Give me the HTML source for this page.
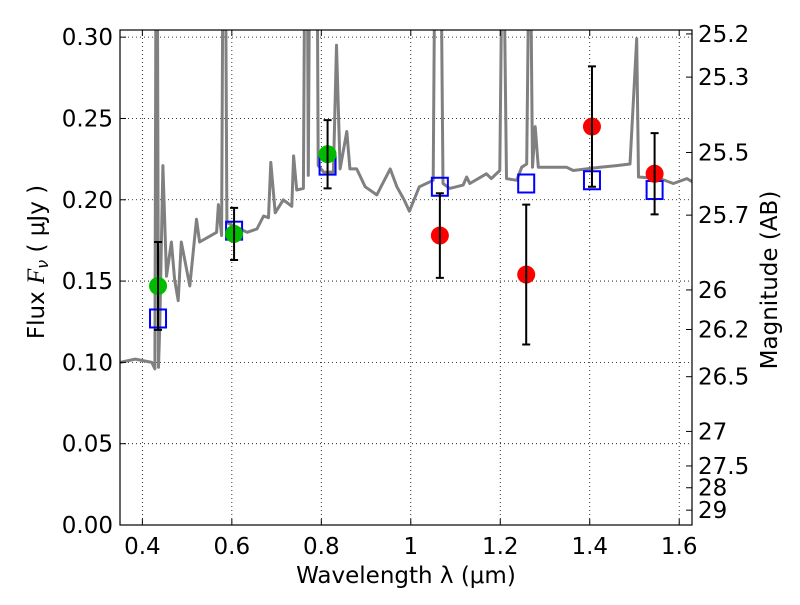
<!DOCTYPE html>
<html><head><meta charset="utf-8"><style>
body{margin:0;background:#fff;font-family:"Liberation Sans","DejaVu Sans",sans-serif;}
svg text{font-family:"DejaVu Sans","Liberation Sans",sans-serif;}
</style></head><body>
<svg id="chart" width="800" height="600" xmlns="http://www.w3.org/2000/svg">
<rect width="800" height="600" fill="#fff"/>
<g id="grid"></g>
<g id="plot"></g>
<g id="axes"></g>
</svg>
<script>
const specX=[0.351,0.384,0.421,0.428,0.431,0.433,0.436,0.439,0.446,0.454,0.465,0.472,0.480,0.487,0.506,0.521,0.528,0.566,0.570,0.577,0.581,0.583,0.585,0.589,0.634,0.656,0.671,0.682,0.687,0.697,0.715,0.734,0.738,0.745,0.760,0.764,0.768,0.771,0.775,0.779,0.783,0.786,0.790,0.793,0.805,0.827,0.834,0.842,0.857,0.864,0.879,0.898,0.924,0.954,0.969,0.985,0.997,1.019,1.035,1.050,1.055,1.060,1.066,1.072,1.087,1.117,1.125,1.132,1.169,1.180,1.199,1.206,1.214,1.237,1.248,1.259,1.266,1.272,1.278,1.285,1.348,1.363,1.423,1.460,1.490,1.505,1.509,1.557,1.587,1.617,1.630];
const specY=[0.100,0.102,0.100,0.096,0.40,0.40,0.097,0.123,0.221,0.153,0.174,0.151,0.138,0.174,0.147,0.188,0.174,0.180,0.197,0.178,0.40,0.40,0.40,0.186,0.180,0.182,0.190,0.189,0.223,0.192,0.200,0.196,0.227,0.206,0.207,0.40,0.40,0.215,0.40,0.40,0.40,0.40,0.40,0.221,0.217,0.217,0.295,0.219,0.242,0.219,0.219,0.208,0.203,0.219,0.208,0.200,0.193,0.208,0.210,0.212,0.40,0.40,0.40,0.210,0.207,0.209,0.214,0.210,0.216,0.213,0.218,0.40,0.213,0.212,0.220,0.222,0.40,0.220,0.245,0.220,0.220,0.218,0.220,0.221,0.222,0.299,0.214,0.213,0.210,0.213,0.211];
const photX=[0.435,0.605,0.814,1.065,1.258,1.405,1.545];
const photY=[0.147,0.179,0.228,0.178,0.154,0.245,0.216];
const photErr=[0.027,0.016,0.021,0.026,0.043,0.037,0.025];
const photColor=['#00bb00','#00bb00','#00bb00','#ff0000','#ff0000','#ff0000','#ff0000'];
const modelY=[0.127,0.181,0.221,0.208,0.210,0.212,0.206];
const xTicks=[0.4,0.6,0.8,1.0,1.2,1.4,1.6];
const xTickLabels=['0.4','0.6','0.8','1','1.2','1.4','1.6'];
const yTicks=[0,0.05,0.10,0.15,0.20,0.25,0.30];
const yTickLabels=['0.00','0.05','0.10','0.15','0.20','0.25','0.30'];
const magTicks=[25.2,25.3,25.5,25.7,26,26.2,26.5,27,27.5,28,29];
const magLabels=['25.2','25.3','25.5','25.7','26','26.2','26.5','27','27.5','28','29'];

const L=120,R=692,T=30,B=525,X0=0.35,X1=1.6286,Y0=0,Y1=0.3044;
const sx=v=>L+(v-X0)/(X1-X0)*(R-L);
const sy=v=>B-(v-Y0)/(Y1-Y0)*(B-T);
const NS='http://www.w3.org/2000/svg';
function mk(tag,attrs,parent){const e=document.createElementNS(NS,tag);for(const k in attrs)e.setAttribute(k,attrs[k]);parent.appendChild(e);return e;}
const grid=document.getElementById('grid'),plot=document.getElementById('plot'),axes=document.getElementById('axes');
const defs=mk('defs',{},document.getElementById('chart'));
const cp=mk('clipPath',{id:'clip'},defs);mk('rect',{x:L,y:T,width:R-L,height:B-T},cp);
plot.setAttribute('clip-path','url(#clip)');
xTicks.forEach((v,i)=>{
 const x=sx(v);
 const g=mk('line',{x1:x,x2:x,y1:T,y2:B,stroke:'#000','stroke-width':0.8,'stroke-dasharray':'1,3'},grid);
 
 mk('line',{x1:x,x2:x,y1:B,y2:B-6,stroke:'#000'},axes);
 mk('line',{x1:x,x2:x,y1:T,y2:T+6,stroke:'#000'},axes);
 const t=mk('text',{x:x,y:B+29,'text-anchor':'middle','font-size':23},axes);t.textContent=xTickLabels[i];
 
});
yTicks.forEach((v,i)=>{
 const y=sy(v);
 const g=mk('line',{x1:L,x2:R,y1:y,y2:y,stroke:'#000','stroke-width':0.8,'stroke-dasharray':'1,3'},grid);
 
 mk('line',{x1:L,x2:L+6,y1:y,y2:y,stroke:'#000'},axes);
 const t=mk('text',{x:L-7,y:y+8,'text-anchor':'end','font-size':23},axes);t.textContent=yTickLabels[i];
 
});
magTicks.forEach((m,i)=>{
 const y=sy(Math.pow(10,(23.9-m)/2.5));
 mk('line',{x1:R,x2:R-6,y1:y,y2:y,stroke:'#000'},axes);
 const t=mk('text',{x:R+6,y:y+8,'font-size':23},axes);t.textContent=magLabels[i];
 
});
let d='';specX.forEach((v,i)=>{d+=(i?'L':'M')+sx(v).toFixed(1)+','+sy(specY[i]).toFixed(1);});
const sp=mk('path',{d:d,fill:'none',stroke:'#808080','stroke-width':3,'stroke-linejoin':'round'},plot);

modelY.forEach((v,i)=>{
 const r=mk('rect',{x:sx(photX[i])-8,y:sy(v)-9,width:16,height:18,fill:'none',stroke:'#0000ff','stroke-width':2},plot);
 
});
photX.forEach((v,i)=>{
 const x=sx(v),y1=sy(photY[i]+photErr[i]),y2=sy(photY[i]-photErr[i]);
 const c=mk('circle',{cx:x,cy:sy(photY[i]),r:9,fill:photColor[i]},plot);
 
 const e=mk('path',{d:`M${x},${y1}V${y2}M${x-4},${y1}H${x+4}M${x-4},${y2}H${x+4}`,stroke:'#000','stroke-width':2,fill:'none'},plot);
 
});
mk('rect',{x:L,y:T,width:R-L,height:B-T,fill:'none',stroke:'#000','stroke-width':1.2},axes);
const xl=mk('text',{x:406,y:583,'text-anchor':'middle','font-size':23},axes);
xl.textContent='Wavelength  λ (μm)';

const yl=mk('text',{x:0,y:0,'text-anchor':'middle','font-size':23,transform:'translate(44,262) rotate(-90)'},axes);
yl.innerHTML='Flux  <tspan font-style="italic" font-family="Liberation Serif, serif" font-size="25">F</tspan><tspan font-style="italic" font-size="16" dy="4">ν</tspan><tspan dy="-4">  (  μJy )</tspan>';

const ml=mk('text',{x:0,y:0,'text-anchor':'middle','font-size':23,transform:'translate(777,280) rotate(-90)'},axes);
ml.textContent='Magnitude (AB)';

</script>
</body></html>
